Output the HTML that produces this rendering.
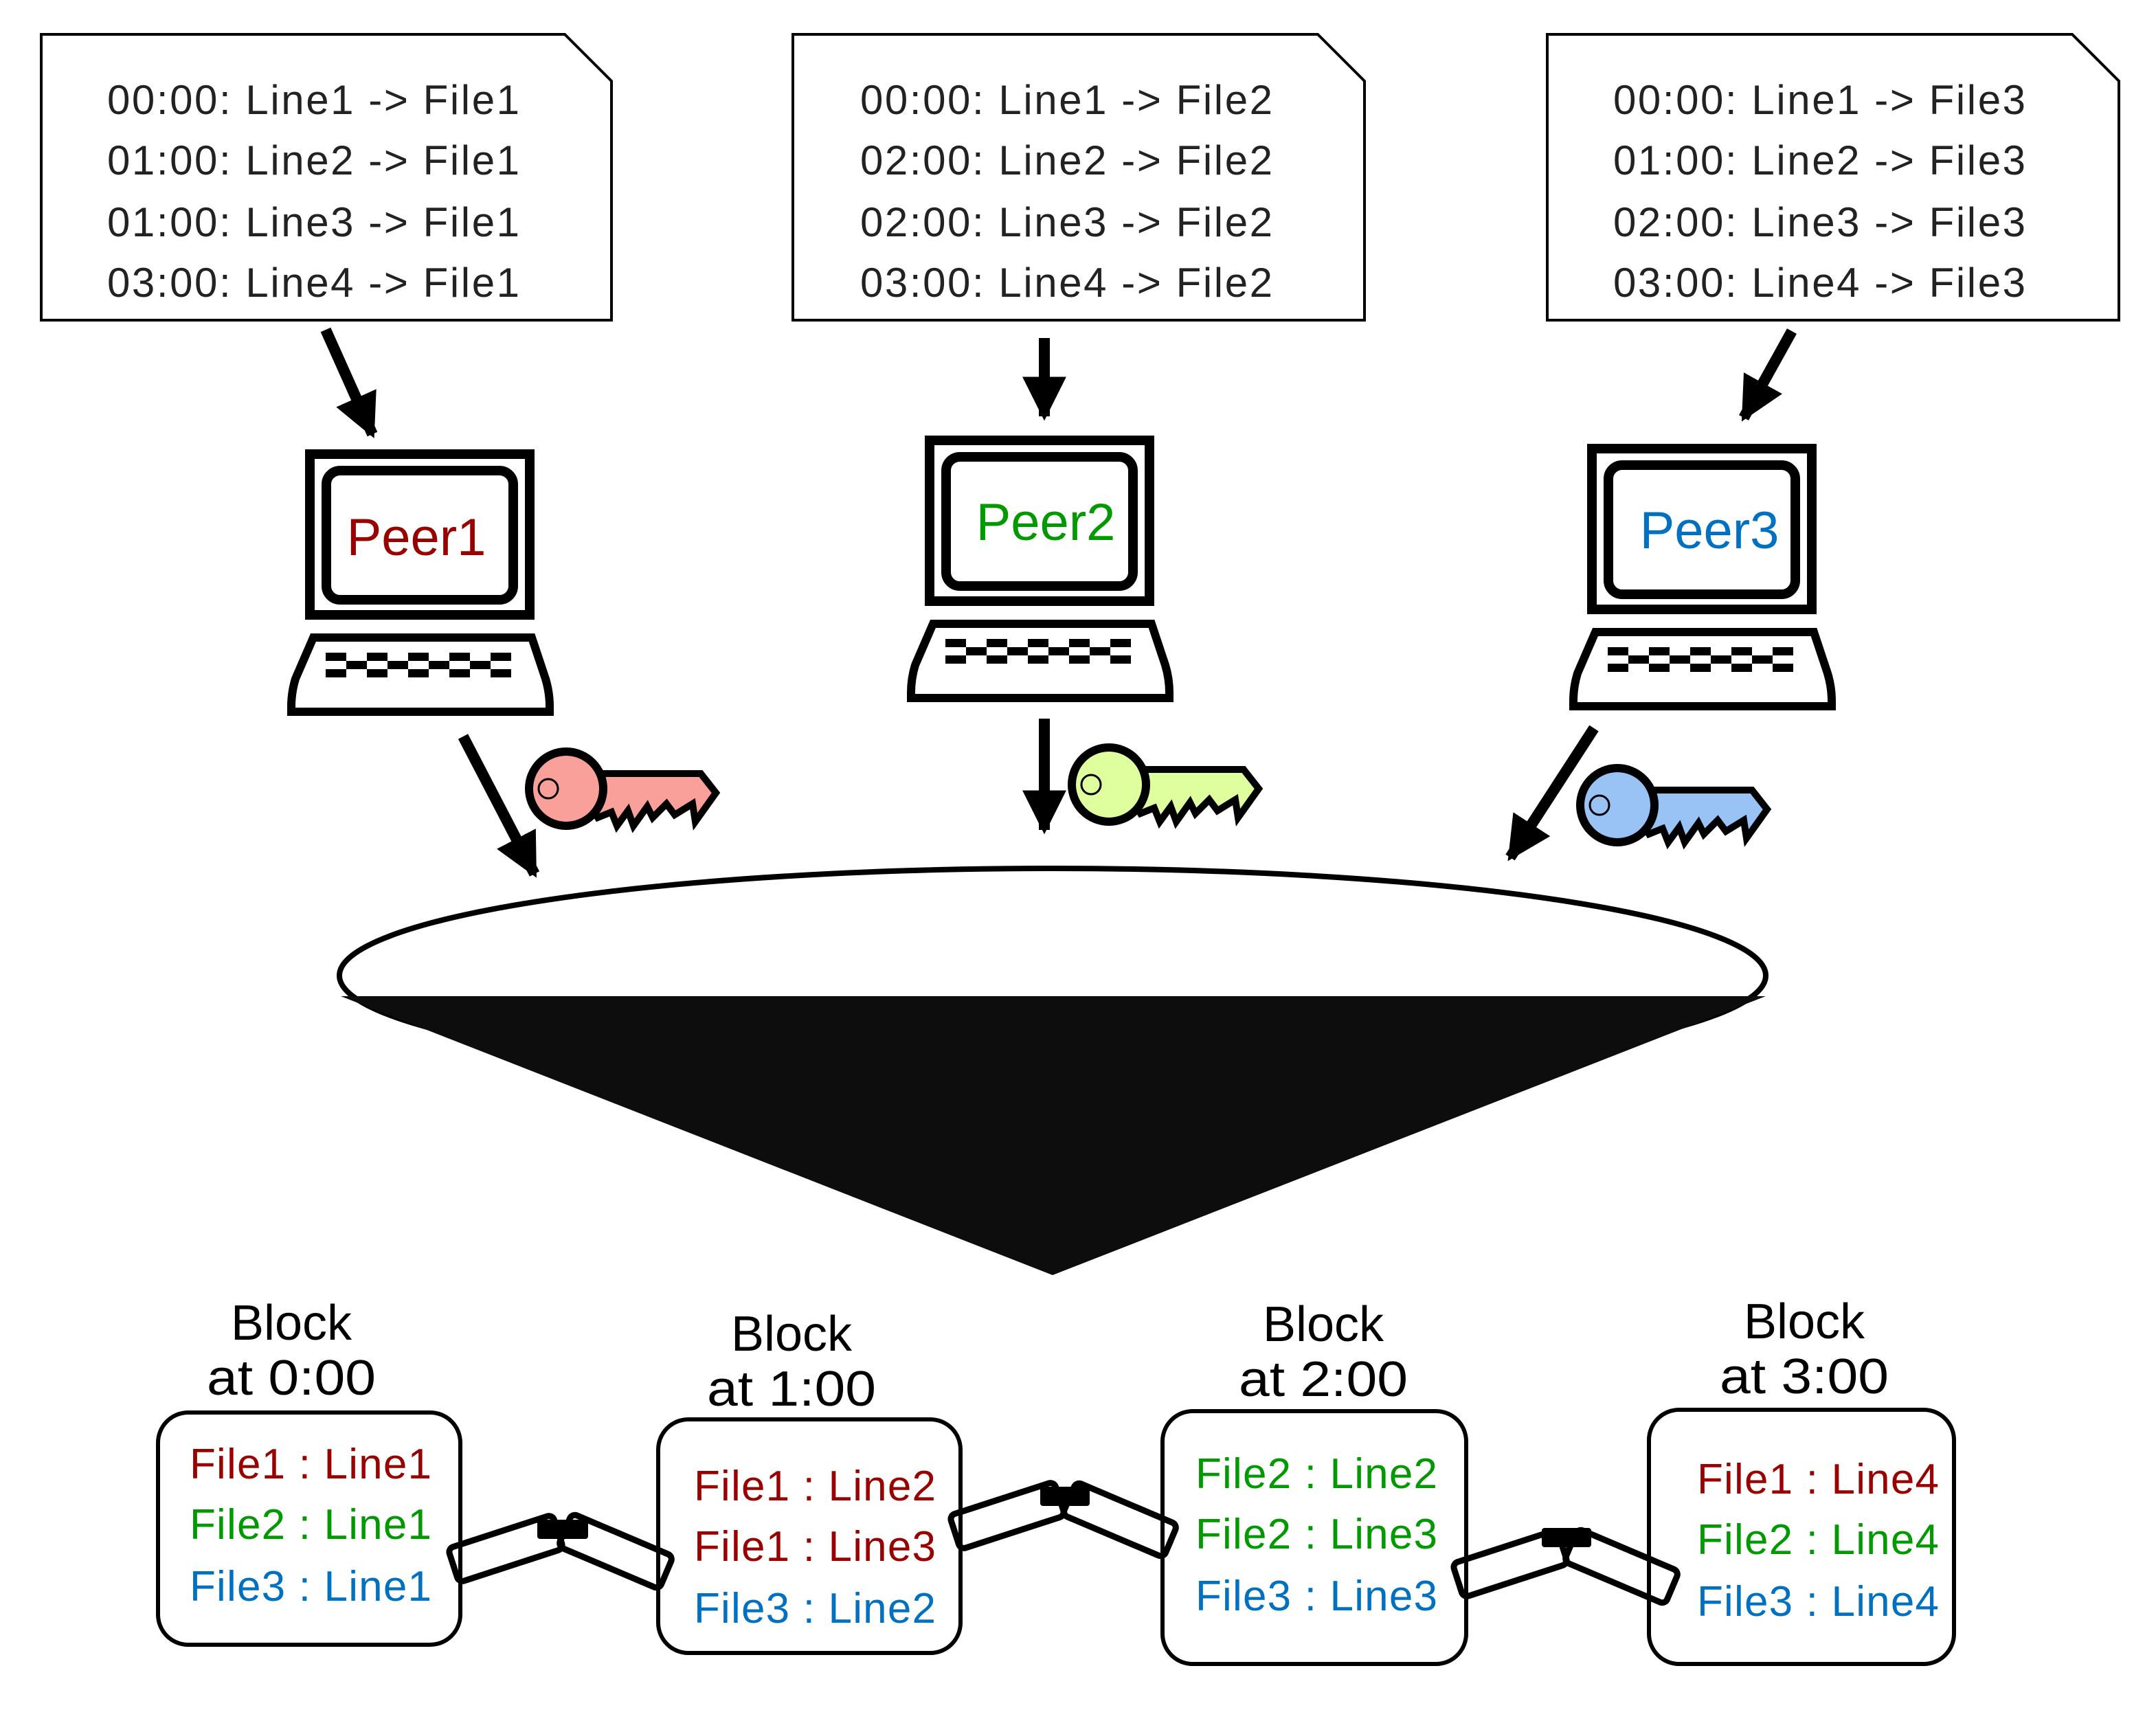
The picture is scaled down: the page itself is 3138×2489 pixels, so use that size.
<!DOCTYPE html>
<html><head><meta charset="utf-8"><style>
html,body{margin:0;padding:0;background:#fff}
svg{display:block}
text{font-family:"Liberation Sans","DejaVu Sans",sans-serif}
</style></head><body>
<svg width="3138" height="2489" viewBox="0 0 1569 1244.5" xmlns="http://www.w3.org/2000/svg">
<defs>
<marker id="ah" markerWidth="4" markerHeight="4" refX="3.6" refY="2" orient="auto" markerUnits="strokeWidth">
<path d="M0,0 L4,2 L0,4 Z" fill="#000"/>
</marker>
<g id="laptop">
<rect x="16.5" y="3.5" width="160" height="117" fill="#fff" stroke="#000" stroke-width="7"/>
<rect x="28.5" y="15.5" width="136" height="94" rx="10" fill="#fff" stroke="#000" stroke-width="7"/>
<path d="M19,137 L178,137 L188,167 Q191,177 191,187 L191,191 L3,191 L3,187 Q3,177 6,167 Z" fill="#fff" stroke="#000" stroke-width="6"/>
<g fill="#000">
<rect x="28" y="148" width="15" height="6"/><rect x="58" y="148" width="15" height="6"/><rect x="88" y="148" width="15" height="6"/><rect x="118" y="148" width="15" height="6"/><rect x="148" y="148" width="15" height="6"/>
<rect x="43" y="154" width="15" height="6"/><rect x="73" y="154" width="15" height="6"/><rect x="103" y="154" width="15" height="6"/><rect x="133" y="154" width="15" height="6"/>
<rect x="28" y="160" width="15" height="6"/><rect x="58" y="160" width="15" height="6"/><rect x="88" y="160" width="15" height="6"/><rect x="118" y="160" width="15" height="6"/><rect x="148" y="160" width="15" height="6"/>
</g>
</g>
</defs>

<!-- text boxes -->
<g fill="#fff" stroke="#000" stroke-width="2">
<path d="M30,25 L411,25 L445,59 L445,233 L30,233 Z"/>
<path d="M577,25 L959,25 L993,59 L993,233 L577,233 Z"/>
<path d="M1126,25 L1508,25 L1542,59 L1542,233 L1126,233 Z"/>
</g>
<g font-size="30" fill="#222" lengthAdjust="spacingAndGlyphs">
<text x="78" y="83" textLength="300">00:00: Line1 -&gt; File1</text>
<text x="78" y="127" textLength="300">01:00: Line2 -&gt; File1</text>
<text x="78" y="172" textLength="300">01:00: Line3 -&gt; File1</text>
<text x="78" y="216" textLength="300">03:00: Line4 -&gt; File1</text>
<text x="626" y="83" textLength="300">00:00: Line1 -&gt; File2</text>
<text x="626" y="127" textLength="300">02:00: Line2 -&gt; File2</text>
<text x="626" y="172" textLength="300">02:00: Line3 -&gt; File2</text>
<text x="626" y="216" textLength="300">03:00: Line4 -&gt; File2</text>
<text x="1174" y="83" textLength="300">00:00: Line1 -&gt; File3</text>
<text x="1174" y="127" textLength="300">01:00: Line2 -&gt; File3</text>
<text x="1174" y="172" textLength="300">02:00: Line3 -&gt; File3</text>
<text x="1174" y="216" textLength="300">03:00: Line4 -&gt; File3</text>
</g>

<!-- arrows -->
<g stroke="#000" stroke-width="8" marker-end="url(#ah)">
<line x1="237" y1="240" x2="271" y2="316"/>
<line x1="760" y1="246" x2="760" y2="303"/>
<line x1="1304" y1="241" x2="1269" y2="304"/>
<line x1="337" y1="536" x2="389" y2="636"/>
<line x1="760" y1="523" x2="760" y2="604"/>
<line x1="1160" y1="530" x2="1099" y2="624"/>
</g>

<!-- laptops -->
<use href="#laptop" transform="translate(209,327)"/>
<use href="#laptop" transform="translate(660,317)"/>
<use href="#laptop" transform="translate(1142,323)"/>
<text x="303" y="404" font-size="38" fill="#990000" text-anchor="middle">Peer1</text>
<text x="761" y="393" font-size="38" fill="#009900" text-anchor="middle">Peer2</text>
<text x="1244" y="399" font-size="38" fill="#0070c0" text-anchor="middle">Peer3</text>

<!-- keys -->
<g transform="translate(383,544)">
<path d="M46,19 L127,19 L138,33 L123,54 L121,41 L108,49 L102,41 L92,51 L88,43 L78,57 L74,46 L66,57 L62,47 L52,51 L46,41 Z" fill="#f9a09a" stroke="#000" stroke-width="5"/>
<circle cx="29" cy="30" r="27" fill="#f9a09a" stroke="#000" stroke-width="6"/>
<circle cx="16" cy="30" r="7" fill="none" stroke="#000" stroke-width="1.5"/>
</g>
<g transform="translate(778,541)">
<path d="M46,19 L127,19 L138,33 L123,54 L121,41 L108,49 L102,41 L92,51 L88,43 L78,57 L74,46 L66,57 L62,47 L52,51 L46,41 Z" fill="#dfff9f" stroke="#000" stroke-width="5"/>
<circle cx="29" cy="30" r="27" fill="#dfff9f" stroke="#000" stroke-width="6"/>
<circle cx="16" cy="30" r="7" fill="none" stroke="#000" stroke-width="1.5"/>
</g>
<g transform="translate(1148,556)">
<path d="M46,19 L127,19 L138,33 L123,54 L121,41 L108,49 L102,41 L92,51 L88,43 L78,57 L74,46 L66,57 L62,47 L52,51 L46,41 Z" fill="#99c2f5" stroke="#000" stroke-width="5"/>
<circle cx="29" cy="30" r="27" fill="#99c2f5" stroke="#000" stroke-width="6"/>
<circle cx="16" cy="30" r="7" fill="none" stroke="#000" stroke-width="1.5"/>
</g>

<!-- funnel -->
<ellipse cx="766" cy="710" rx="519" ry="78" fill="#fff" stroke="#000" stroke-width="4"/>
<polygon points="248,725 1285,725 766,928" fill="#0d0d0d"/>

<!-- block titles -->
<g font-size="36" fill="#000" text-anchor="middle">
<text x="212" y="975">Block</text><text x="212" y="1015" textLength="123" lengthAdjust="spacingAndGlyphs">at 0:00</text>
<text x="576" y="983">Block</text><text x="576" y="1023" textLength="123" lengthAdjust="spacingAndGlyphs">at 1:00</text>
<text x="963" y="976">Block</text><text x="963" y="1016" textLength="123" lengthAdjust="spacingAndGlyphs">at 2:00</text>
<text x="1313" y="974">Block</text><text x="1313" y="1014" textLength="123" lengthAdjust="spacingAndGlyphs">at 3:00</text>
</g>

<!-- blocks -->
<g fill="#fff" stroke="#000" stroke-width="3">
<rect x="115" y="1028" width="220" height="169" rx="22"/>
<rect x="479" y="1033" width="220" height="170" rx="22"/>
<rect x="846" y="1027" width="221" height="184" rx="22"/>
<rect x="1200" y="1026" width="222" height="185" rx="22"/>
</g>
<g font-size="31" lengthAdjust="spacingAndGlyphs">
<text x="138" y="1076" fill="#990000" textLength="176">File1 : Line1</text>
<text x="138" y="1120" fill="#009900" textLength="176">File2 : Line1</text>
<text x="138" y="1165" fill="#0070c0" textLength="176">File3 : Line1</text>
<text x="505" y="1092" fill="#990000" textLength="176">File1 : Line2</text>
<text x="505" y="1136" fill="#990000" textLength="176">File1 : Line3</text>
<text x="505" y="1181" fill="#0070c0" textLength="176">File3 : Line2</text>
<text x="870" y="1083" fill="#009900" textLength="176">File2 : Line2</text>
<text x="870" y="1127" fill="#009900" textLength="176">File2 : Line3</text>
<text x="870" y="1172" fill="#0070c0" textLength="176">File3 : Line3</text>
<text x="1235" y="1087" fill="#990000" textLength="176">File1 : Line4</text>
<text x="1235" y="1131" fill="#009900" textLength="176">File2 : Line4</text>
<text x="1235" y="1176" fill="#0070c0" textLength="176">File3 : Line4</text>
</g>

<!-- chain links -->
<g fill="none" stroke="#000" stroke-width="4.5">
<rect x="-40" y="-13" width="80" height="26" rx="4" transform="translate(368,1127) rotate(-18)"/>
<rect x="-40" y="-13" width="80" height="26" rx="4" transform="translate(448,1129) rotate(23)"/>
<rect x="-40" y="-13" width="80" height="26" rx="4" transform="translate(733,1103) rotate(-18)"/>
<rect x="-40" y="-13" width="80" height="26" rx="4" transform="translate(815,1106) rotate(23)"/>
<rect x="-40" y="-13" width="80" height="26" rx="4" transform="translate(1099,1138) rotate(-18)"/>
<rect x="-40" y="-13" width="80" height="26" rx="4" transform="translate(1180,1140) rotate(23)"/>
</g>
<g fill="#000">
<rect x="391" y="1106" width="37" height="14" rx="2"/>
<rect x="757" y="1082" width="36" height="14" rx="2"/>
<rect x="1122" y="1112" width="36" height="14" rx="2"/>
</g>
</svg>
</body></html>
